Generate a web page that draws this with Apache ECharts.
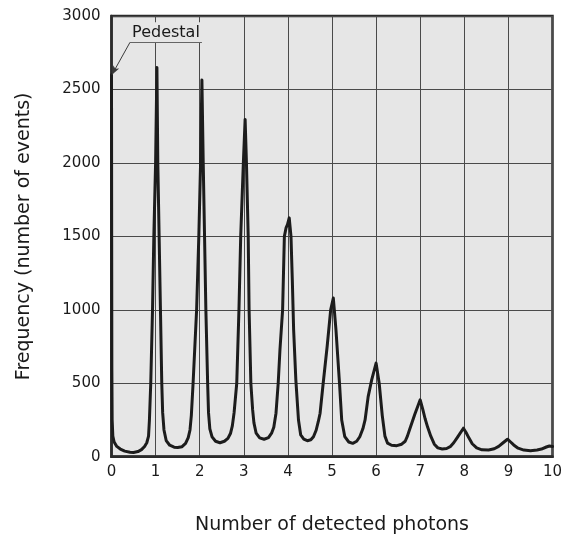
<!DOCTYPE html>
<html>
<head>
<meta charset="utf-8">
<script src="https://cdn.jsdelivr.net/npm/echarts@6/dist/echarts.min.js"></script>
<style>
  html, body { margin: 0; padding: 0; background: #ffffff; }
  #chart { width: 562px; height: 543px; }
</style>
</head>
<body>
<div id="chart"></div>
<script>
// Photon-counting spectrum: pedestal at 0, then one peak per detected photon.
const photons = [
  0, 0.004, 0.008, 0.015, 0.03, 0.06, 0.12, 0.2, 0.3, 0.42, 0.5, 0.6, 0.68, 0.75, 0.8, 0.84, 0.86, 0.89, 0.93, 0.96, 1.0, 1.03,
  1.05, 1.08, 1.11, 1.14, 1.16, 1.19, 1.24, 1.32, 1.42, 1.5, 1.6, 1.68, 1.74, 1.78, 1.81, 1.85, 1.93, 1.98, 2.02, 2.05,
  2.08, 2.11, 2.14, 2.18, 2.2, 2.23, 2.28, 2.36, 2.46, 2.56, 2.64, 2.7, 2.74, 2.78, 2.84, 2.89, 2.93, 2.99, 3.03,
  3.06, 3.1, 3.12, 3.16, 3.2, 3.23, 3.28, 3.36, 3.46, 3.56, 3.63, 3.68, 3.73, 3.78, 3.82, 3.88, 3.92, 3.96, 3.99, 4.03,
  4.07, 4.1, 4.13, 4.18, 4.24, 4.29, 4.36, 4.44, 4.52, 4.58, 4.64, 4.69, 4.73, 4.8, 4.89, 4.97, 5.03,
  5.09, 5.17, 5.22, 5.29, 5.38, 5.47, 5.56, 5.63, 5.7, 5.75, 5.82, 5.9, 6.0,
  6.07, 6.14, 6.2, 6.26, 6.35, 6.47, 6.58, 6.66, 6.71, 6.76, 6.88, 7.0,
  7.06, 7.11, 7.17, 7.24, 7.32, 7.4, 7.5, 7.6, 7.68, 7.76, 7.84, 7.98,
  8.04, 8.1, 8.18, 8.28, 8.4, 8.55, 8.68, 8.78, 8.88, 8.98,
  9.05, 9.12, 9.22, 9.35, 9.5, 9.65, 9.75, 9.86, 9.93, 10
];
const events = [
  2600, 1500, 600, 250, 140, 100, 70, 52, 38, 30, 29, 35, 48, 70, 95, 140, 250, 500, 1000, 1500, 2000, 2650,
  2000, 1500, 1000, 500, 300, 182, 110, 78, 65, 62, 68, 90, 130, 182, 280, 500, 1000, 1500, 2000, 2565,
  2000, 1500, 1000, 500, 300, 190, 135, 105, 95, 105, 125, 160, 210, 300, 500, 1000, 1500, 2000, 2296,
  2000, 1500, 1000, 500, 320, 230, 160, 128, 119, 130, 160, 200, 296, 500, 728, 1000, 1500, 1560, 1580, 1626,
  1500, 1205, 864, 523, 250, 148, 120, 109, 115, 136, 180, 240, 296, 500, 750, 1000, 1080,
  864, 500, 250, 136, 100, 91, 105, 136, 190, 250, 409, 523, 637,
  500, 280, 140, 92, 78, 75, 85, 105, 140, 185, 290, 387,
  320, 260, 200, 140, 85, 60, 52, 56, 68, 95, 130, 194,
  165, 130, 88, 60, 47, 46, 54, 70, 95, 119,
  100, 80, 58, 45, 41, 46, 52, 66, 73, 70
];

const yTicks = [0, 500, 1000, 1500, 2000, 2500, 3000];
const xTicks = [0, 1, 2, 3, 4, 5, 6, 7, 8, 9, 10];

// Callout for the pedestal: text sits on a short rule, a leader runs to the top of the pedestal.
const pedestalText = 'Pedestal';
const pedestalTip = [0.01, 2600];
const calloutElbow = [0.42, 2821];
const calloutEnd = [2.05, 2821];

const FONT = 'DejaVu Sans, Verdana, sans-serif';

const chart = echarts.init(document.getElementById('chart'), null, { renderer: 'canvas' });

chart.setOption({
  animation: false,
  backgroundColor: '#ffffff',
  grid: {
    left: 111.5, right: 9.5, top: 16, bottom: 86.3,
    show: true,
    backgroundColor: '#e6e6e6',
    borderColor: '#2b2b2b',
    borderWidth: 2.5,
    outerBoundsMode: 'none'
  },
  xAxis: {
    type: 'value',
    min: xTicks[0], max: xTicks[xTicks.length - 1], interval: 1,
    name: 'Number of detected photons',
    nameLocation: 'middle',
    nameGap: 59,
    nameTextStyle: { fontFamily: FONT, fontSize: 19, color: '#1a1a1a' },
    axisLine: { show: true, lineStyle: { color: '#2b2b2b', width: 2.5 } },
    axisTick: { show: false },
    axisLabel: { fontFamily: FONT, fontSize: 15, color: '#1a1a1a', margin: 8 },
    splitLine: { show: true, lineStyle: { color: '#4a4a4a', width: 1 } }
  },
  yAxis: {
    type: 'value',
    min: yTicks[0], max: yTicks[yTicks.length - 1], interval: 500,
    name: 'Frequency (number of events)',
    nameLocation: 'middle',
    nameGap: 78,
    nameTextStyle: { fontFamily: FONT, fontSize: 19, color: '#1a1a1a' },
    axisLine: { show: true, lineStyle: { color: '#2b2b2b', width: 2.5 } },
    axisTick: { show: false },
    axisLabel: { fontFamily: FONT, fontSize: 15, color: '#1a1a1a', margin: 11, formatter: v => String(v) },
    splitLine: { show: true, lineStyle: { color: '#4a4a4a', width: 1 } }
  },
  series: [{
    type: 'line',
    data: photons.map((p, i) => [p, events[i]]),
    showSymbol: false,
    smooth: false,
    lineStyle: { color: '#1c1c1c', width: 3, join: 'round', cap: 'round' },
    markLine: {
      silent: true,
      animation: false,
      lineStyle: { color: '#3a3a3a', width: 1, type: 'solid' },
      data: [
        [
          { coord: calloutEnd, symbol: 'none' },
          {
            coord: calloutElbow, symbol: 'none',
            label: {
              show: true,
              formatter: pedestalText,
              position: 'middle',
              distance: 0,
              fontFamily: FONT,
              fontSize: 16,
              color: '#1a1a1a',
              backgroundColor: '#e6e6e6',
              padding: [3, 2, 1, 2]
            }
          }
        ],
        [
          { coord: calloutElbow, symbol: 'none' },
          { coord: pedestalTip, symbol: 'arrow', symbolSize: [5, 9] }
        ]
      ]
    }
  }]
});
</script>
</body>
</html>
